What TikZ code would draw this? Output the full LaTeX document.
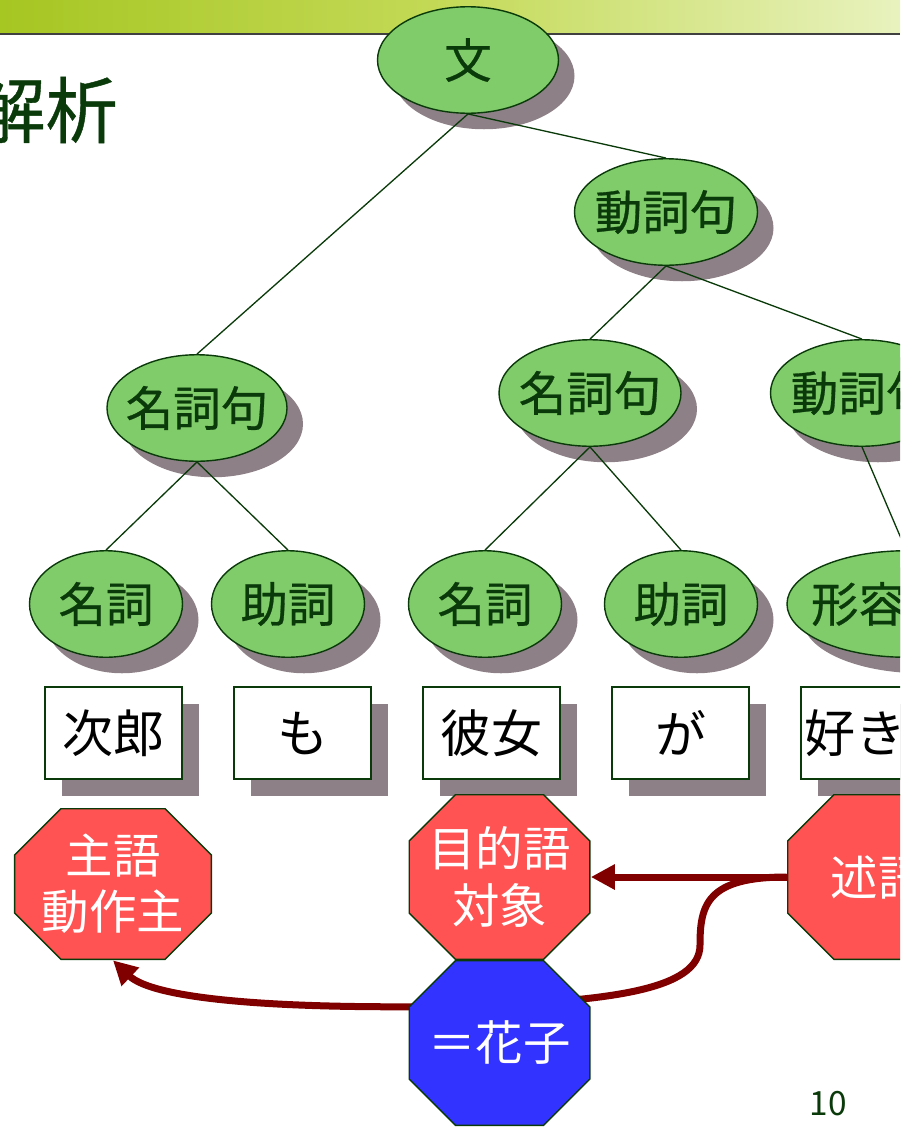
\documentclass[tikz,border=0pt]{standalone}
\usepackage{fontspec}
\setmainfont{Noto Sans CJK JP}
\newfontfamily\heavyjp{Noto Sans CJK JP}[FakeBold=0.6]
\usetikzlibrary{shapes.geometric,shadows,arrows.meta}
\definecolor{leafgreen}{RGB}{128,203,106}
\definecolor{inkgreen}{RGB}{10,58,10}
\definecolor{shadowgray}{RGB}{141,128,134}
\definecolor{rolered}{RGB}{255,82,82}
\definecolor{roleblue}{RGB}{51,51,255}
\definecolor{arrowred}{RGB}{128,0,0}
\definecolor{bandleft}{RGB}{166,198,34}
\definecolor{bandmid}{RGB}{196,218,88}
\definecolor{bandright}{RGB}{232,242,190}
\newcommand{\catlabel}[1]{\makebox[0pt]{#1}}
\tikzset{catnode/.style={ellipse, draw=inkgreen, line width=0.8pt, fill=leafgreen,
    text=inkgreen, inner sep=0pt, minimum height=21.3mm, font=\heavyjp\fontsize{27}{30}\selectfont,
    drop shadow={shadow xshift=3.2mm, shadow yshift=-3.2mm, fill=shadowgray, opacity=1}}}
\tikzset{wordbox/.style={rectangle, draw=inkgreen, line width=0.8pt, fill=white,
    minimum width=27.4mm, minimum height=18.4mm, inner sep=0pt, font=\fontsize{29}{29}\selectfont,
    drop shadow={shadow xshift=3.4mm, shadow yshift=-3.4mm, fill=shadowgray, opacity=1}}}
\tikzset{rolebox/.style={rectangle, minimum width=36.4mm, minimum height=33.2mm,
    inner sep=0pt, text=white, align=center, font=\fontsize{27}{32}\selectfont,
    path picture={\path[fill=#1, draw=inkgreen, line width=0.8pt]
      ([xshift=9.4mm, yshift=-0.4pt]path picture bounding box.north west)
      -- ([xshift=-9.4mm, yshift=-0.4pt]path picture bounding box.north east)
      -- ([xshift=-0.4pt, yshift=-9.4mm]path picture bounding box.north east)
      -- ([xshift=-0.4pt, yshift=9.4mm]path picture bounding box.south east)
      -- ([xshift=-9.4mm, yshift=0.4pt]path picture bounding box.south east)
      -- ([xshift=9.4mm, yshift=0.4pt]path picture bounding box.south west)
      -- ([xshift=0.4pt, yshift=9.4mm]path picture bounding box.south west)
      -- ([xshift=0.4pt, yshift=-9.4mm]path picture bounding box.north west)
      -- cycle;}},
  rolebox/.default=rolered}
\tikzset{treeline/.style={draw=inkgreen, line width=0.75pt}}
\tikzset{rolearrow/.style={draw=arrowred, line width=1.4mm, -{Triangle[length=4.8mm, width=4.8mm]}}}

\begin{document}
\begin{tikzpicture}[x=0.2mm, y=-0.2mm]
	\useasboundingbox (0,0) rectangle (900,1127);
	\clip (0,0) rectangle (900,1127);
	\shade[left color=bandleft, right color=bandright, middle color=bandmid] (0,0) rectangle (900,34);
	\draw[line width=1.2pt, black!75] (0,34) -- (900,34);
	\node[anchor=east, inner sep=0pt, text=inkgreen, font=\heavyjp\fontsize{41}{41}\selectfont] (title) at (118,110) {解析};

	\node[catnode, minimum width=36.2mm] (bun) at (468,60) {\catlabel{文}};
	\node[catnode, minimum width=36.6mm] (dousiku) at (666,212) {\catlabel{動詞句}};
	\node[catnode, minimum width=36mm] (meisiku1) at (197,408) {\catlabel{名詞句}};
	\node[catnode, minimum width=36.4mm] (meisiku2) at (590,393) {\catlabel{名詞句}};
	\node[catnode, minimum width=36.6mm] (dousiku2) at (862,393) {\catlabel{動詞句}};
	\node[catnode, minimum width=30.6mm] (meisi1) at (106,604) {\catlabel{名詞}};
	\node[catnode, minimum width=30.6mm] (josi1) at (288,604) {\catlabel{助詞}};
	\node[catnode, minimum width=30.6mm] (meisi2) at (485,604) {\catlabel{名詞}};
	\node[catnode, minimum width=30.6mm] (josi2) at (681,604) {\catlabel{助詞}};
	\node[catnode, minimum width=47.6mm] (keiyou) at (906,604) {\catlabel{形容動詞}};

	\draw[treeline] (bun.south) -- (meisiku1.north);
	\draw[treeline] (bun.south) -- (dousiku.north);
	\draw[treeline] (dousiku.south) -- (meisiku2.north);
	\draw[treeline] (dousiku.south) -- (dousiku2.north);
	\draw[treeline] (meisiku1.south) -- (meisi1.north);
	\draw[treeline] (meisiku1.south) -- (josi1.north);
	\draw[treeline] (meisiku2.south) -- (meisi2.north);
	\draw[treeline] (meisiku2.south) -- (josi2.north);
	\draw[treeline] (dousiku2.south) -- (keiyou.north);

	\node[wordbox] (jiro) at (113.5,733) {次郎};
	\node[wordbox] (mo) at (302.5,733) {も};
	\node[wordbox] (kanojo) at (491.5,733) {彼女};
	\node[wordbox] (ga) at (680.5,733) {が};
	\node[wordbox, minimum width=32mm] (suki) at (881,733) {好きだ};

	\node[rolebox, minimum width=39.6mm, minimum height=30.4mm] (shugo) at (113,884) {主語\\動作主};
	\node[rolebox] (mokuteki) at (499.5,877) {目的語\\対象};
	\node[rolebox] (jutsugo) at (878,877) {述語};

	\coordinate (kink) at (700,945);
	\coordinate (pass) at (470,1006);
	\draw[rolearrow] (jutsugo.west) -- (mokuteki.east);
	\draw[rolearrow] (jutsugo.west) .. controls +(-80,0) and +(0,-40) .. (kink)
		.. controls +(0,45) and +(140,-5) .. (pass)
		.. controls +(-200,4) and +(40,38) .. (shugo.south);

	\node[rolebox=roleblue] (hanako) at (499.5,1043) {＝花子};
	\node[text=inkgreen, font=\fontsize{19}{19}\selectfont] (pageno) at (828,1104) {10};
\end{tikzpicture}
\end{document}
